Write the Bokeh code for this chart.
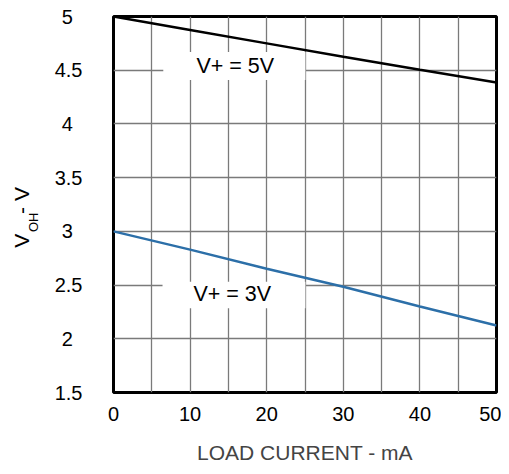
import math
from bokeh.plotting import figure
from bokeh.layouts import row
from bokeh.models import FixedTicker, Label, BoxAnnotation, Range1d, CustomJSTickFormatter
from bokeh.embed import file_html
from bokeh.resources import INLINE

# Data
load_current_ma = [0, 10, 20, 30, 40, 50]
voh_5v = [5.0, 4.875, 4.75, 4.626, 4.504, 4.385]
voh_3v = [3.0, 2.83, 2.652, 2.484, 2.30, 2.123]
x_ticks = [0, 10, 20, 30, 40, 50]
x_minor = [5, 15, 25, 35, 45]
y_ticks = [1.5, 2, 2.5, 3, 3.5, 4, 4.5, 5]
label_5v = "V+ = 5V"
label_3v = "V+ = 3V"

FONT = "Liberation Sans"
H = 466
LW = 40                      # width of the strip holding the rotated y-axis title
W = 501 - LW
FL, FR, FT, FB = 113 - LW, 496 - LW, 16, 397  # frame edges in main-canvas px

# ---- narrow strip with the y-axis title "V_OH - V" ----
t = figure(width=LW, height=H, output_backend="svg", toolbar_location=None,
           x_range=Range1d(0, LW), y_range=Range1d(0, H),
           x_axis_type=None, y_axis_type=None,
           min_border_left=0, min_border_right=0, min_border_top=0, min_border_bottom=0)
t.outline_line_color = None
t.grid.visible = False
t.background_fill_color = "white"
t.border_fill_color = "white"
for txt, px, py, size in [("V", 21, 278, "21px"), ("OH", 33, 255, "13px"), ("- V", 21, 228, "21px")]:
    t.add_layout(Label(x=px, y=H - py, text=txt, angle=math.pi / 2,
                       text_align="center", text_baseline="middle",
                       text_font=FONT, text_font_size=size, text_color="black"))

# ---- main chart ----
p = figure(width=W, height=H, output_backend="svg", toolbar_location=None,
           x_range=Range1d(0, 50), y_range=Range1d(1.5, 5),
           min_border_left=FL, min_border_right=W - FR,
           min_border_top=FT, min_border_bottom=H - FB)
p.background_fill_color = "white"
p.border_fill_color = "white"
p.outline_line_color = "black"
p.outline_line_width = 3

p.xaxis.ticker = FixedTicker(ticks=x_ticks, minor_ticks=x_minor)
p.yaxis.ticker = FixedTicker(ticks=y_ticks)
# pad whole-number labels so the labels look centred like the reference
p.yaxis.formatter = CustomJSTickFormatter(code="""
    return Number.isInteger(tick) ? tick.toString() + "\\u2008\\u2009" : tick.toString();
""")
for ax in (p.xaxis, p.yaxis):
    ax.axis_line_color = None
    ax.major_tick_line_color = None
    ax.minor_tick_line_color = None
    ax.major_tick_in = 0
    ax.major_tick_out = 0
    ax.minor_tick_in = 0
    ax.minor_tick_out = 0
    ax.major_label_text_font = FONT
    ax.major_label_text_font_size = "20px"
    ax.major_label_text_color = "black"

p.xaxis.major_label_standoff = 14
p.xaxis.axis_label = "LOAD CURRENT - mA"
p.xaxis.axis_label_text_font = FONT
p.xaxis.axis_label_text_font_size = "21px"
p.xaxis.axis_label_text_font_style = "normal"
p.xaxis.axis_label_standoff = 17
p.yaxis.major_label_standoff = 31

p.xgrid.grid_line_color = "#7a7a7a"
p.xgrid.grid_line_width = 1.3
p.xgrid.minor_grid_line_color = "#7a7a7a"
p.xgrid.minor_grid_line_width = 1.3
p.ygrid.grid_line_color = "#7a7a7a"
p.ygrid.grid_line_width = 1.3

# white boxes behind the curve labels
p.add_layout(BoxAnnotation(left=6.5, right=25.05, bottom=4.41, top=4.67,
                           fill_color="white", fill_alpha=1, line_color=None, level="underlay"))
p.add_layout(BoxAnnotation(left=6.4, right=25.05, bottom=2.285, top=2.53,
                           fill_color="white", fill_alpha=1, line_color=None, level="underlay"))

p.line(load_current_ma, voh_5v, line_color="black", line_width=2.5)
p.line(load_current_ma, voh_3v, line_color="#2c6fa8", line_width=2.5)

p.add_layout(Label(x=15.9, y=4.535, text=label_5v, text_align="center", text_baseline="middle",
                   text_font=FONT, text_font_size="21.5px", text_color="black"))
p.add_layout(Label(x=15.5, y=2.415, text=label_3v, text_align="center", text_baseline="middle",
                   text_font=FONT, text_font_size="21.5px", text_color="black"))

layout = row(t, p, spacing=0)
open("out.html", "w").write(file_html(layout, INLINE))
